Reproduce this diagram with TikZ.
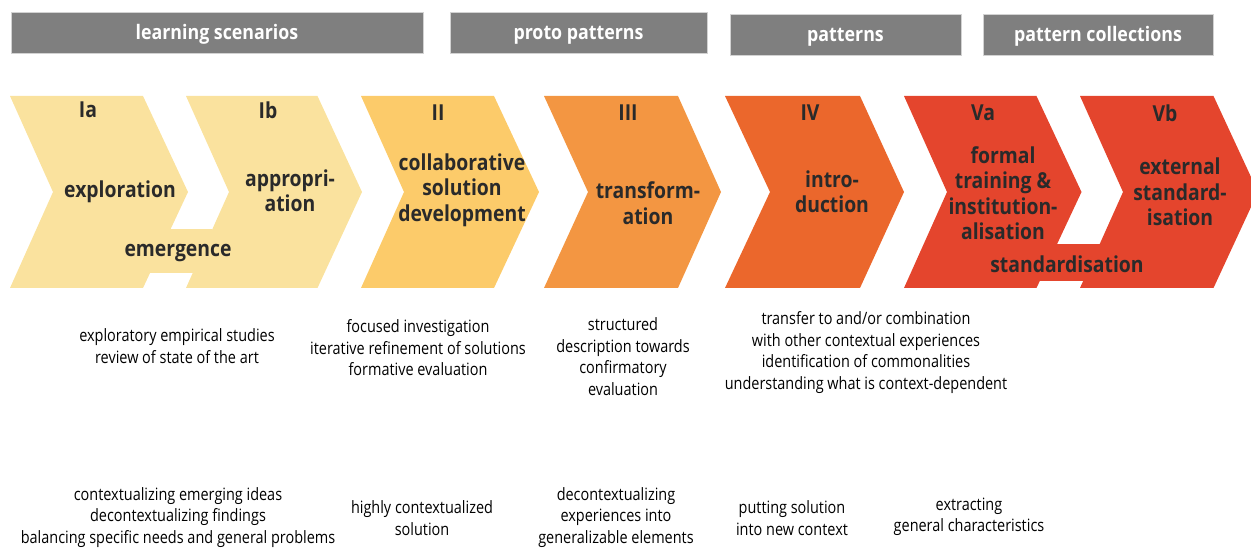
\documentclass[tikz,border=0pt]{standalone}
\usepackage{fontspec}
\setmainfont{Open Sans}[FakeStretch=0.85]
\newfontfamily\lblfont{Open Sans}[FakeStretch=0.88]
\newfontfamily\barfont{Open Sans}[FakeStretch=0.89]
\definecolor{barGray}{HTML}{7F7F7F}
\definecolor{barEdge}{HTML}{D2D2D2}
\definecolor{cI}{HTML}{FAE29E}
\definecolor{cII}{HTML}{FCCB6A}
\definecolor{cIII}{HTML}{F39642}
\definecolor{cIV}{HTML}{EB672C}
\definecolor{cV}{HTML}{E4452D}
\definecolor{lblDark}{HTML}{2A2A2A}
\newcommand\chevshape[5]{%
  \fill[#1] (#2,96) -- (#4,96) -- (#5,192) -- (#4,288) -- (#2,288) -- (#3,192) -- cycle;}
\begin{document}
\begin{tikzpicture}[x=1pt,y=-1pt,
  bar/.style={fill=barGray, draw=barEdge, line width=0.8pt, text=white,
    font=\barfont\fontsize{20}{22}\selectfont\bfseries, inner sep=0pt,
    text height=15pt, text depth=0pt},
  lbl/.style={text=lblDark, font=\lblfont\fontsize{22}{25.5}\selectfont\bfseries, align=center, inner sep=0pt},
  body/.style={text=black, font=\fontsize{17}{21.5}\selectfont, align=center, inner sep=0pt}]
\useasboundingbox (0,0) rectangle (1251,548);
% top bars
\node[bar, minimum width=412pt, minimum height=41pt] (ls) at (217,32.5) {learning scenarios};
\node[bar, minimum width=257pt, minimum height=41pt] (pp) at (578.5,32.5) {proto patterns};
\node[bar, minimum width=231pt, minimum height=41pt] (pa) at (845.5,34.5) {patterns};
\node[bar, minimum width=230pt, minimum height=41pt] (pc) at (1098,34.5) {pattern collections};
% chevrons
\chevshape{cI}{10}{53}{143}{188}
\chevshape{cI}{186}{229}{317.5}{362}
\fill[cI] (150,229) rectangle (212,273);
\chevshape{cII}{361}{404}{494}{539}
\chevshape{cIII}{544}{588}{678}{721}
\chevshape{cIV}{725}{770}{860}{904}
\chevshape{cV}{904}{947}{1036.5}{1081.5}
\chevshape{cV}{1080}{1123}{1213.5}{1258}
\fill[cV] (1039,244) rectangle (1100,281);
% chevron labels
\node[lbl] (nIa) at (88,110) {Ia};
\node[lbl] (nIb) at (268,110) {Ib};
\node[lbl] (nII) at (438,113) {II};
\node[lbl] (nIII) at (628,113) {III};
\node[lbl] (nIV) at (810,113) {IV};
\node[lbl] (nVa) at (983,113) {Va};
\node[lbl] (nVb) at (1165,113) {Vb};
\node[lbl] (explo) at (120,192) {exploration};
\node[lbl] (appro) at (290,191) {appropri-\\ation};
\node[lbl] (emerg) at (178,253) {emergence};
\node[lbl] (collab) at (462,190) {collaborative\\solution\\development};
\node[lbl] (transf) at (648,203) {transform-\\ation};
\node[lbl] (intro) at (832,192) {intro-\\duction};
\node[lbl] (formal) at (1003,193) {formal\\training \&\\institution-\\alisation};
\node[lbl] (stand) at (1067,264) {standardisation};
\node[lbl] (extern) at (1180,192) {external\\standard-\\isation};
% descriptions row 1
\node[body] (d1) at (177,346) {exploratory empirical studies\\review of state of the art};
\node[body] (d2) at (418,348) {focused investigation\\iterative refinement of solutions\\formative evaluation};
\node[body] (d3) at (623,356.5) {structured\\description towards\\confirmatory\\evaluation};
\node[body] (d4) at (866,352.5) {transfer to and/or combination\\with other contextual experiences\\identification of commonalities\\understanding what is context-dependent};
% descriptions row 2
\node[body] (e1) at (178,517.5) {contextualizing emerging ideas\\decontextualizing findings\\balancing specific needs and general problems};
\node[body] (e2) at (422,518) {highly contextualized\\solution};
\node[body] (e3) at (616,517.5) {decontextualizing\\experiences into\\generalizable elements};
\node[body] (e4) at (792,518) {putting solution\\into new context};
\node[body] (e5) at (969,517) {extracting\\general characteristics};
\end{tikzpicture}
\end{document}
